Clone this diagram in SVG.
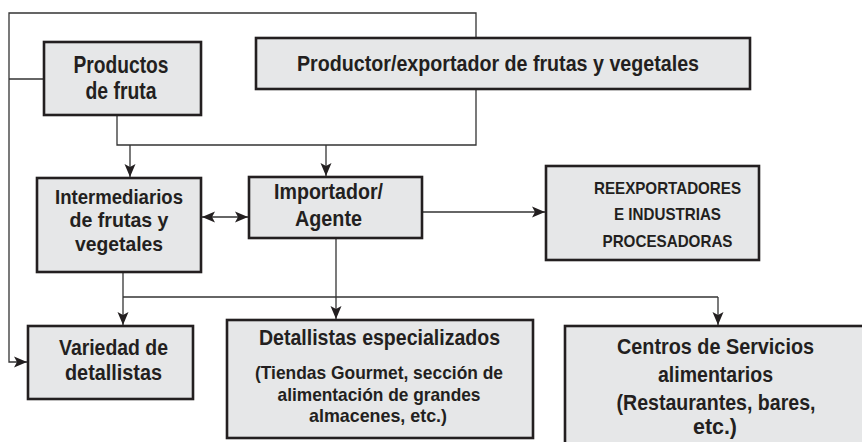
<svg xmlns="http://www.w3.org/2000/svg" width="862" height="442" viewBox="0 0 862 442">
<style>
.box{fill:#e6e7e8;stroke:#231f20;stroke-width:2.6}
.t{font-family:"Liberation Sans",Arial,sans-serif;font-weight:bold;fill:#231f20;text-anchor:middle}
.l{fill:none;stroke:#333333;stroke-width:1.3}
</style>
<defs>
<marker id="ah" markerUnits="userSpaceOnUse" markerWidth="15" markerHeight="12" refX="13" refY="5.5" orient="auto-start-reverse" viewBox="0 0 15 11">
<path d="M0,0 L13,5.5 L0,11 L3,5.5 Z" fill="#231f20"/>
</marker>
</defs>
<rect width="862" height="442" fill="#ffffff"/>
<g id="connectors">
<polyline class="l" points="476,38 476,13 9,13 9,362 27,362" marker-end="url(#ah)"/>
<line class="l" x1="44" y1="79" x2="9" y2="79"/>
<polyline class="l" points="117,115 117,145 476,145 476,89"/>
<line class="l" x1="130" y1="145" x2="130" y2="177" marker-end="url(#ah)"/>
<line class="l" x1="326" y1="145" x2="326" y2="176" marker-end="url(#ah)"/>
<line class="l" x1="202" y1="217" x2="248" y2="217" marker-start="url(#ah)" marker-end="url(#ah)"/>
<line class="l" x1="422" y1="212" x2="545" y2="212" marker-end="url(#ah)"/>
<polyline class="l" points="123,272 123,325" marker-end="url(#ah)"/>
<line class="l" x1="123" y1="297" x2="718" y2="297"/>
<line class="l" x1="718" y1="297" x2="718" y2="325" marker-end="url(#ah)"/>
<line class="l" x1="336" y1="238" x2="336" y2="319" marker-end="url(#ah)"/>
</g>
<g id="productos">
<rect class="box" x="44" y="42" width="157" height="73"/>
<text class="t" x="121" y="73" font-size="24" textLength="95" lengthAdjust="spacingAndGlyphs">Productos</text>
<text class="t" x="121" y="99" font-size="24" textLength="71" lengthAdjust="spacingAndGlyphs">de fruta</text>
</g>
<g id="productor">
<rect class="box" x="256" y="38" width="494" height="51"/>
<text class="t" x="498" y="71" font-size="22" textLength="402" lengthAdjust="spacingAndGlyphs">Productor/exportador de frutas y vegetales</text>
</g>
<g id="intermediarios">
<rect class="box" x="37" y="178" width="164" height="94"/>
<text class="t" x="119" y="204" font-size="21" textLength="128" lengthAdjust="spacingAndGlyphs">Intermediarios</text>
<text class="t" x="119" y="227" font-size="21" textLength="99" lengthAdjust="spacingAndGlyphs">de frutas y</text>
<text class="t" x="119" y="251" font-size="21" textLength="88" lengthAdjust="spacingAndGlyphs">vegetales</text>
</g>
<g id="importador">
<rect class="box" x="249" y="177" width="173" height="61"/>
<text class="t" x="328.5" y="199" font-size="22" textLength="109" lengthAdjust="spacingAndGlyphs">Importador/</text>
<text class="t" x="328.5" y="226" font-size="22" textLength="67" lengthAdjust="spacingAndGlyphs">Agente</text>
</g>
<g id="reexportadores">
<rect class="box" x="546" y="166" width="213" height="94"/>
<text class="t" x="667.5" y="193.5" font-size="17" textLength="147" lengthAdjust="spacingAndGlyphs">REEXPORTADORES</text>
<text class="t" x="667.5" y="220" font-size="17" textLength="107" lengthAdjust="spacingAndGlyphs">E INDUSTRIAS</text>
<text class="t" x="667.5" y="246.5" font-size="17" textLength="130" lengthAdjust="spacingAndGlyphs">PROCESADORAS</text>
</g>
<g id="variedad">
<rect class="box" x="28" y="326" width="165" height="73"/>
<text class="t" x="113.5" y="355" font-size="22" textLength="109" lengthAdjust="spacingAndGlyphs">Variedad de</text>
<text class="t" x="113.5" y="380" font-size="22" textLength="97" lengthAdjust="spacingAndGlyphs">detallistas</text>
</g>
<g id="detallistas">
<rect class="box" x="227" y="320" width="306" height="118"/>
<text class="t" x="379.5" y="345" font-size="22" textLength="241" lengthAdjust="spacingAndGlyphs">Detallistas especializados</text>
<text class="t" x="379" y="379" font-size="19" textLength="248" lengthAdjust="spacingAndGlyphs">(Tiendas Gourmet, sección de</text>
<text class="t" x="379" y="401" font-size="19" textLength="203" lengthAdjust="spacingAndGlyphs">alimentación de grandes</text>
<text class="t" x="378" y="422" font-size="19" textLength="138" lengthAdjust="spacingAndGlyphs">almacenes, etc.)</text>
</g>
<g id="centros">
<rect class="box" x="565" y="326" width="302" height="122"/>
<text class="t" x="715.5" y="354" font-size="22" textLength="197" lengthAdjust="spacingAndGlyphs">Centros de Servicios</text>
<text class="t" x="715.5" y="382" font-size="22" textLength="115" lengthAdjust="spacingAndGlyphs">alimentarios</text>
<text class="t" x="716" y="410" font-size="22" textLength="199" lengthAdjust="spacingAndGlyphs">(Restaurantes, bares,</text>
<text class="t" x="715" y="434" font-size="22" textLength="44" lengthAdjust="spacingAndGlyphs">etc.)</text>
</g>
</svg>
